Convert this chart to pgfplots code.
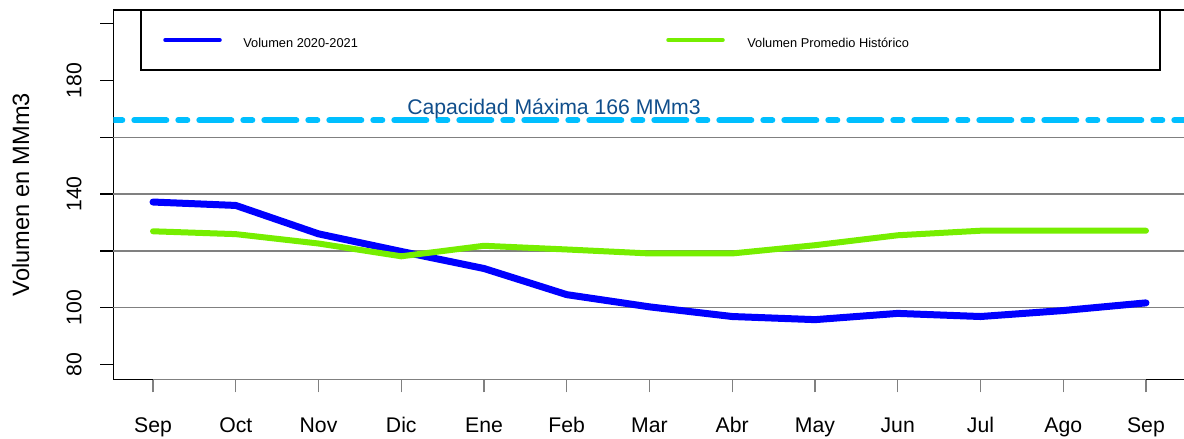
\documentclass[border=0pt]{standalone}
\usepackage{pgfplots}
\pgfplotsset{compat=1.18}
\usepackage{fontspec}
\setmainfont{Liberation Sans}
\definecolor{serieblue}{HTML}{0000FF}
\definecolor{seriegreen}{HTML}{76EE00}
\definecolor{capblue}{HTML}{00BFFF}
\definecolor{captext}{HTML}{104E8B}
\definecolor{gridgray}{HTML}{808080}

\pgfplotstableread{
x  vol   prom
0  137.2 126.9
1  136.0 125.9
2  126.0 122.6
3  119.8 118.1
4  113.8 121.8
5  104.6 120.5
6  100.3 119.1
7   96.9 119.1
8   95.8 122.0
9   98.0 125.5
10  96.9 127.1
11  99.0 127.1
12 101.7 127.1
}\datatable

\begin{document}
\begin{tikzpicture}[x=0.5pt,y=0.5pt]
\useasboundingbox (0,0) rectangle (1184,439);
\begin{axis}[
  at={(56.65pt,29.85pt)}, anchor=south west,
  scale only axis, width=539.5pt, height=184.65pt,
  xmin=-0.48, xmax=12.56, ymin=74.8, ymax=204.8,
  axis line style={black, line width=0.65pt},
  xtick={0,...,12},
  xticklabels={Sep,Oct,Nov,Dic,Ene,Feb,Mar,Abr,May,Jun,Jul,Ago,Sep},
  ytick={80,100,120,140,160,180,200},
  yticklabels={80,100,,140,,180,},
  tick align=outside, major tick length=6.5pt,
  xtick pos=bottom, ytick pos=left,
  x tick style={gridgray, line width=0.65pt},
  y tick style={black, line width=0.65pt},
  extra y ticks={100,120,140,160},
  extra y tick labels={},
  extra y tick style={grid=major, major tick length=0pt,
     major grid style={gridgray, line width=0.65pt}},
  /pgf/number format/assume math mode=true,
  xticklabel style={font=\fontsize{10.6}{12}\selectfont, anchor=base, inner sep=0pt, yshift=-19.85pt},
  yticklabel style={font=\fontsize{10.6}{12}\selectfont, xshift=-9.5pt, rotate=90, anchor=base, inner sep=0pt},
  ylabel={Volumen en MMm3},
  ylabel style={font=\fontsize{11.8}{13}\selectfont, at={(axis description cs:-0.078,0.5)}, rotate=0, anchor=base, inner sep=0pt},
  clip=true,
]
\addplot[color=capblue, line width=3pt, line cap=round,
  dash pattern=on 4.5pt off 6pt on 16pt off 6pt]
  coordinates {(-0.48,166) (12.56,166)};
\addplot[color=serieblue, line width=3.5pt, line cap=round, line join=round] table[x=x, y=vol] {\datatable};
\addplot[color=seriegreen, line width=3pt, line cap=round, line join=round] table[x=x, y=prom] {\datatable};
\draw[gridgray, line width=0.65pt] (axis cs:0,74.8) -- (axis cs:12,74.8);
\end{axis}
% legend
\draw[black, line width=0.65pt] (141,429) rectangle (1160,369);
\draw[serieblue, line width=1.75pt, line cap=round] (165,399) -- (220,399);
\node[anchor=base west, inner sep=0pt, font=\fontsize{6.4}{7}\selectfont] at (243,391) {Volumen 2020-2021};
\draw[seriegreen, line width=1.75pt, line cap=round] (668,399) -- (723,399);
\node[anchor=base west, inner sep=0pt, font=\fontsize{6.4}{7}\selectfont] at (747,391) {Volumen Promedio Histórico};
\node[anchor=base, inner sep=0pt, text=captext, font=\fontsize{10.6}{12}\selectfont] at (554,324) {Capacidad Máxima 166 MMm3};
\end{tikzpicture}
\end{document}
